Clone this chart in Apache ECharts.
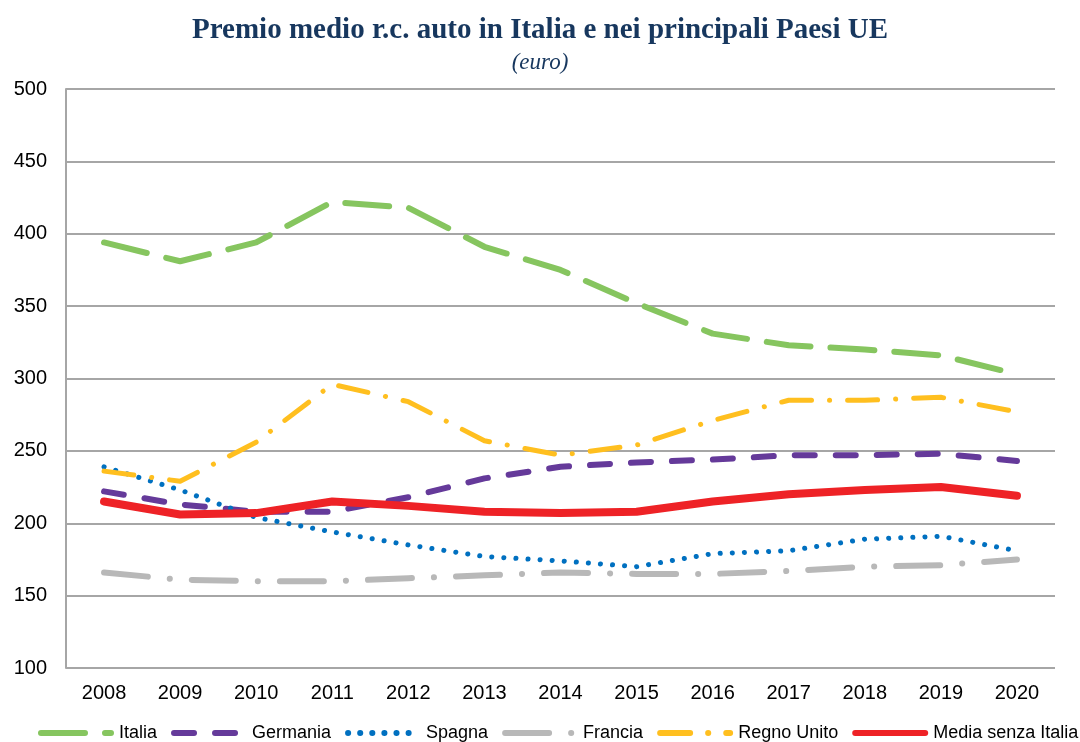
<!DOCTYPE html>
<html>
<head>
<meta charset="utf-8">
<script src="https://cdn.jsdelivr.net/npm/echarts@6/dist/echarts.min.js"></script>
<style>
  html, body { margin: 0; padding: 0; background: #fff; }
  #chart { width: 1080px; height: 742px; }
</style>
</head>
<body>
<div id="chart"></div>
<script>
var years = ["2008", "2009", "2010", "2011", "2012", "2013", "2014", "2015", "2016", "2017", "2018", "2019", "2020"];
var italia = [394, 381, 394, 422, 418, 391, 375, 352, 331, 323, 320, 316, 303];
var germania = [222, 213, 208, 208, 218, 231, 239, 242, 244, 247, 247, 248, 243];
var spagna = [239, 223, 204, 194, 185, 177, 174, 170, 179, 181, 189, 191, 181];
var francia = [166, 161, 160, 160, 162, 164, 166, 165, 165, 167, 170, 171, 175];
var regnoUnito = [236, 229, 256, 296, 284, 257, 247, 254, 271, 285, 285, 287, 277];
var media = [215, 206, 207, 215, 212, 208, 207, 208, 215, 220, 223, 225, 219];

var chart = echarts.init(document.getElementById("chart"));

function serie(name, data, color, width, dash) {
  return {
    name: name,
    type: "line",
    data: data,
    symbol: "none",
    lineStyle: { color: color, width: width, type: dash, cap: "round", join: "round" },
    itemStyle: { color: color }
  };
}

chart.setOption({
  animation: false,
  title: {
    text: "Premio medio r.c. auto in Italia e nei principali Paesi UE",
    subtext: "(euro)",
    left: "center",
    top: 11,
    itemGap: 6,
    textStyle: { fontFamily: "Liberation Serif", fontWeight: "bold", fontSize: 29, color: "#17375E" },
    subtextStyle: { fontFamily: "Liberation Serif", fontStyle: "italic", fontSize: 23, color: "#17375E" }
  },
  // legenda in basso, senza simboli
  legend: {
    bottom: 0,
    left: 38,
    width: 1042,
    padding: 0,
    itemWidth: 70,
    itemHeight: 10,
    itemGap: 14,
    itemStyle: { opacity: 0 },
    lineStyle: { width: 6 },
    textStyle: { fontFamily: "Liberation Sans", fontSize: 18, color: "#000", padding: [0, 0, 0, 3] }
  },
  grid: { left: 66, right: 25, top: 89, bottom: 74 },
  xAxis: {
    type: "category",
    data: years,
    axisLine: { show: false },
    axisTick: { show: false },
    axisLabel: { fontFamily: "Liberation Sans", fontSize: 20, color: "#000", margin: 15 }
  },
  yAxis: {
    type: "value",
    min: 100,
    max: 500,
    interval: 50,
    axisLine: { show: true, lineStyle: { color: "#A6A6A6", width: 2 } },
    axisLabel: { fontFamily: "Liberation Sans", fontSize: 20, color: "#000", margin: 19 },
    splitLine: { lineStyle: { color: "#A6A6A6", width: 2 } }
  },
  series: [
    serie("Italia", italia, "#86C55F", 6, [44, 20]),
    serie("Germania", germania, "#653A9A", 6, [20, 21]),
    serie("Spagna", spagna, "#0070C0", 5, [0.1, 12]),
    serie("Francia", francia, "#B8B8B8", 6, [44, 22, 0.1, 22]),
    serie("Regno Unito", regnoUnito, "#FFBF1F", 5, [30, 18, 0.1, 18]),
    serie("Media senza Italia", media, "#EE2226", 8, "solid")
  ]
});
</script>
</body>
</html>
